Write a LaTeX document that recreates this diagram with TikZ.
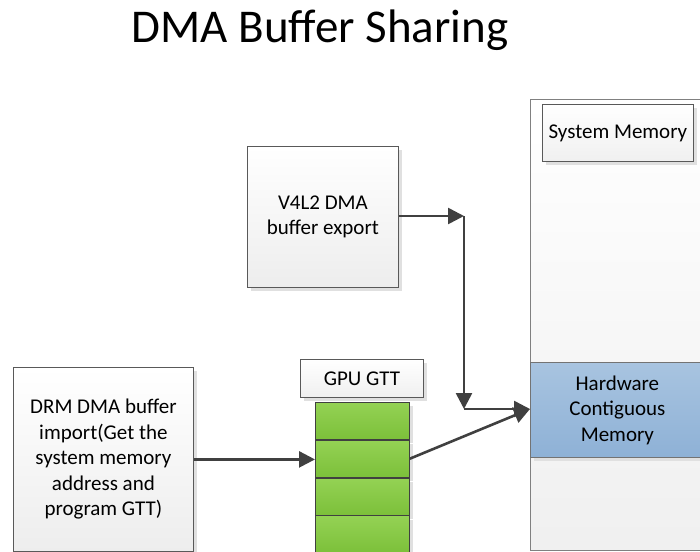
\documentclass[tikz,border=0pt]{standalone}
\usepackage{fontspec}
\setmainfont{Carlito}
\usetikzlibrary{arrows.meta,positioning,shadows}

\definecolor{gttgreentop}{RGB}{148,210,84}
\definecolor{gttgreenbot}{RGB}{124,192,58}
\definecolor{hwbluetop}{RGB}{168,196,224}
\definecolor{hwbluebot}{RGB}{142,177,214}

\begin{document}
\begin{tikzpicture}[
  x=1pt, y=-1pt,
  font=\fontsize{21}{25.5}\selectfont,
  >={Triangle[length=16pt, width=16pt]},
  box/.style={draw=black!65, line width=0.8pt, align=center, inner sep=0pt,
              top color=white, bottom color=black!7,
              drop shadow={shadow xshift=4pt, shadow yshift=-4pt, fill=black!12, opacity=1}},
  tag/.style={box, top color=white, bottom color=black!6},
  cell/.style={box, minimum width=94pt, minimum height=37pt,
               top color=gttgreentop, bottom color=gttgreenbot, draw=black!75},
  mem/.style={box, top color=hwbluetop, bottom color=hwbluebot, draw=black!55},
  flow/.style={->, line width=2.6pt, draw=black!75, fill=black!75},
]
\useasboundingbox (0,0) rectangle (700,551);

% ---- title -----------------------------------------------------------------
\node[anchor=base, font=\fontsize{47}{56}\selectfont] (title) at (320,43) {DMA Buffer Sharing};

% ---- system memory column --------------------------------------------------
\node[draw=black!50, line width=0.6pt, top color=white, bottom color=black!6,
      minimum width=174pt, minimum height=451pt, anchor=north west] (sysmem) at (530,99) {};
\node[tag, minimum width=151pt, minimum height=57pt, anchor=north west] (sysmemtag) at (542,104) {System Memory};
\node[mem, minimum width=174pt, minimum height=95pt, anchor=north west] (hw) at (530,362) {Hardware\\Contiguous\\Memory};

% ---- buffer exporter / importer --------------------------------------------
\node[box, minimum width=151pt, minimum height=141pt, anchor=north west] (v4l2) at (247,146) {V4L2 DMA\\buffer export};
\node[box, minimum width=180pt, minimum height=184pt, anchor=north west] (drm) at (13,367)
  {DRM DMA buffer\\import(Get the\\system memory\\address and\\program GTT)};

% ---- GPU GTT table ---------------------------------------------------------
\node[tag, minimum width=123pt, minimum height=38pt, anchor=north west] (gtt) at (300,359) {GPU GTT};
\node[cell, anchor=north west] (cell1) at (315,402) {};
\node[cell, below=0pt of cell1] (cell2) {};
\node[cell, below=0pt of cell2] (cell3) {};
\node[cell, below=0pt of cell3] (cell4) {};

% ---- arrows ----------------------------------------------------------------
\coordinate (turn) at (464,216);
\coordinate (join) at (464,409);
\draw[flow] (v4l2.east |- turn) -- (turn);
\draw[flow] (turn) -- (join);
\draw[flow] (join) -- (join -| hw.west);
\draw[flow] (drm.east) -- (drm.east -| cell2.west);
\draw[flow] (cell2.east) -- (join -| hw.west);

\end{tikzpicture}
\end{document}
